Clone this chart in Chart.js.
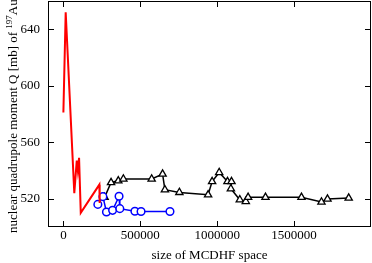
<!DOCTYPE html>
<html>
<head>
<meta charset="utf-8">
<title>Q(197Au) vs size of MCDHF space</title>
<script src="https://cdn.jsdelivr.net/npm/chart.js@4.4.1/dist/chart.umd.min.js"></script>
<style>
    html, body { margin: 0; padding: 0; background: #fff; }
    canvas { display: block; }
</style>
</head>
<body>
<canvas id="qChart" width="372" height="263"></canvas>
<script>
// -----------------------------
// Data
// -----------------------------
const redX = [0, 15000, 71000, 87000, 94000, 102000, 113000, 234000, 236000];
const redY = [581, 652, 524, 547, 540, 549, 510, 530, 517];

const blackX = [268000, 310000, 357000, 390000, 574000, 645000, 660000, 754000, 941000, 967000,
    1013000, 1067000, 1093000, 1089000, 1147000, 1186000, 1201000, 1314000, 1548000, 1678000,
    1717000, 1855000];
const blackY = [521, 531.5, 532.7, 534, 534, 537.5, 526.4, 524.5, 522.8, 532.2,
    538.6, 532.2, 532.2, 527.1, 519.3, 518.1, 521, 521, 521, 517.7,
    519.8, 520.5];

const blueX = [224000, 257000, 280000, 320000, 362000, 367000, 465000, 505000, 693000];
const blueY = [516, 521.5, 510.6, 511.8, 521.8, 513, 511.2, 511, 511];

const xLabelValues = [0, 500000, 1000000, 1500000];
const yLabelValues = [520, 560, 600, 640];

const FONT = '"Liberation Serif", "Times New Roman", serif';

function toPoints(xs, ys) {
    return xs.map((x, i) => ({ x: x, y: ys[i] }));
}

// fixed axis box sizes, no extra label padding
function fixBox(prop, size) {
    return scale => {
        scale[prop] = size;
        scale.paddingTop = scale.paddingBottom = scale.paddingLeft = scale.paddingRight = 0;
    };
}

// -----------------------------
// Frame + inward ticks on all four sides, y title with superscript
// -----------------------------
const frameTicks = {
    id: 'frameTicks',
    afterDraw(chart) {
        const { ctx, chartArea: a, scales } = chart;
        ctx.save();
        ctx.strokeStyle = '#000';
        ctx.lineWidth = 1;
        ctx.beginPath();
        scales.x.ticks.forEach(t => {
            const px = Math.round(scales.x.getPixelForValue(t.value)) + 0.5;
            const len = t.value % 500000 === 0 ? 6 : 3;
            ctx.moveTo(px, a.bottom); ctx.lineTo(px, a.bottom - len);
            ctx.moveTo(px, a.top); ctx.lineTo(px, a.top + len);
        });
        scales.y.ticks.forEach(t => {
            const py = Math.round(scales.y.getPixelForValue(t.value)) + 0.5;
            const len = yLabelValues.includes(t.value) ? 6 : 3;
            ctx.moveTo(a.left, py); ctx.lineTo(a.left + len, py);
            ctx.moveTo(a.right, py); ctx.lineTo(a.right - len, py);
        });
        ctx.stroke();
        ctx.strokeRect(a.left + 0.5, a.top + 0.5, a.right - a.left - 1, a.bottom - a.top - 1);

        // y title: "nuclear quadrupole moment Q [mb] of 197Au"
        ctx.translate(17, 233);
        ctx.rotate(-Math.PI / 2);
        ctx.fillStyle = '#000';
        ctx.textBaseline = 'alphabetic';
        ctx.textAlign = 'left';
        const main = 'nuclear quadrupole moment Q [mb] of ';
        ctx.font = '13px ' + FONT;
        ctx.fillText(main, 0, 0);
        let x = ctx.measureText(main).width;
        ctx.font = '9px ' + FONT;
        ctx.fillText('197', x, -5);
        x += ctx.measureText('197').width;
        ctx.font = '13px ' + FONT;
        ctx.fillText('Au', x, 0);
        ctx.restore();
    }
};

new Chart(document.getElementById('qChart').getContext('2d'), {
    type: 'scatter',
    data: {
        datasets: [
            {
                data: toPoints(redX, redY),
                showLine: true,
                borderColor: '#ff0000',
                borderWidth: 2,
                pointRadius: 0,
                order: 0
            },
            {
                data: toPoints(blueX, blueY),
                showLine: true,
                borderColor: '#0000ff',
                borderWidth: 1.5,
                pointStyle: 'circle',
                pointRadius: 3.8,
                pointBorderWidth: 1.5,
                pointBorderColor: '#0000ff',
                pointBackgroundColor: '#ffffff',
                order: 1
            },
            {
                data: toPoints(blackX, blackY),
                showLine: true,
                borderColor: '#000000',
                borderWidth: 1.5,
                pointStyle: 'triangle',
                pointRadius: 4.2,
                pointBorderWidth: 1.3,
                pointBorderColor: '#000000',
                pointBackgroundColor: '#ffffff',
                order: 2
            }
        ]
    },
    options: {
        responsive: false,
        animation: false,
        layout: { autoPadding: false, padding: { top: 1, right: 1, left: 0, bottom: 0 } },
        plugins: { legend: { display: false }, tooltip: { enabled: false } },
        scales: {
            x: {
                type: 'linear',
                min: -100000,
                max: 2000000,
                grid: { display: false, drawTicks: false },
                border: { display: false },
                ticks: {
                    stepSize: 100000,
                    maxTicksLimit: 100,
                    autoSkip: false,
                    maxRotation: 0,
                    minRotation: 0,
                    padding: 1,
                    color: '#000',
                    font: { family: FONT, size: 13 },
                    callback: v => xLabelValues.includes(v) ? String(v) : null
                },
                title: {
                    display: true,
                    text: 'size of MCDHF space',
                    color: '#000',
                    font: { family: FONT, size: 13 },
                    padding: { top: 0, bottom: 0 }
                },
                afterFit: fixBox('height', 36)
            },
            y: {
                type: 'linear',
                min: 500,
                max: 660,
                grid: { display: false, drawTicks: false },
                border: { display: false },
                ticks: {
                    stepSize: 10,
                    maxTicksLimit: 100,
                    autoSkip: false,
                    padding: 8,
                    color: '#000',
                    font: { family: FONT, size: 13 },
                    callback: v => yLabelValues.includes(v) ? String(v) : null
                },
                afterFit: fixBox('width', 48)
            }
        }
    },
    plugins: [frameTicks]
});
</script>
</body>
</html>
